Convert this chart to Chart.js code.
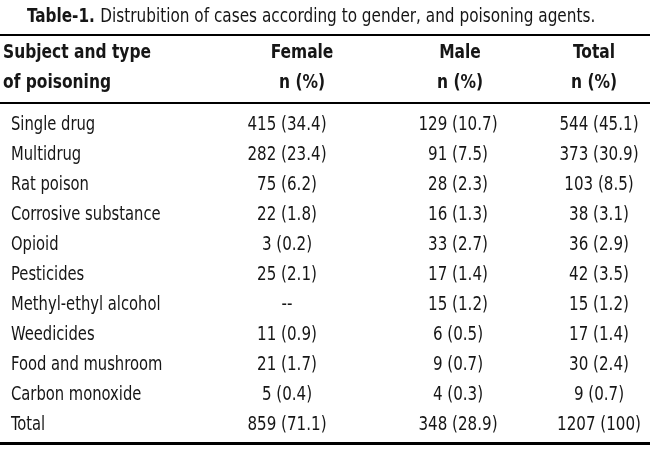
<!DOCTYPE html>
<html>
<head>
<meta charset="utf-8">
<script src="https://cdn.jsdelivr.net/npm/chart.js@4/dist/chart.umd.min.js"></script>
<style>
  html, body { margin: 0; padding: 0; background: #fff; }
  #wrap { width: 650px; height: 459px; position: relative; }
</style>
</head>
<body>
<div id="wrap"><canvas id="tbl"></canvas></div>
<script>
// Table data
const agents = ["Single drug", "Multidrug", "Rat poison", "Corrosive substance", "Opioid",
    "Pesticides", "Methyl-ethyl alcohol", "Weedicides", "Food and mushroom", "Carbon monoxide", "Total"];
const femaleN   = [415, 282, 75, 22, 3, 25, null, 11, 21, 5, 859];
const femalePct = [34.4, 23.4, 6.2, 1.8, 0.2, 2.1, null, 0.9, 1.7, 0.4, 71.1];
const maleN     = [129, 91, 28, 16, 33, 17, 15, 6, 9, 4, 348];
const malePct   = [10.7, 7.5, 2.3, 1.3, 2.7, 1.4, 1.2, 0.5, 0.7, 0.3, 28.9];
const totalN    = [544, 373, 103, 38, 36, 42, 15, 17, 30, 9, 1207];
const totalPct  = [45.1, 30.9, 8.5, 3.1, 2.9, 3.5, 1.2, 1.4, 2.4, 0.7, 100];
const columns   = ["Female", "Male", "Total"];
const titleBold = "Table-1.";
const titleText = "Distrubition of cases according to gender, and poisoning agents.";

// Layout (x positions on the 0..650 x scale)
const labelX = 11;
const colX = [287, 458, 599];
const headX = [302, 460, 594];
const FONT = '"DejaVu Sans Condensed", "DejaVu Sans", sans-serif';
const INK = "#161616";

function cellText(n, pct) {
    if (n === null) return "--";
    const p = pct === 100 ? "100" : pct.toFixed(1);
    return n + " (" + p + ")";
}

function makeDataset(name, nArr, pArr, i) {
    return {
        label: name,
        data: agents.map((a, r) => ({ x: colX[i], y: a, text: cellText(nArr[r], pArr[r]) })),
        pointRadius: 0,
        pointHoverRadius: 0
    };
}

// condensed text: squeeze horizontally
function txt(c, s, x, y, sx) {
    c.save();
    c.translate(x, y);
    c.scale(sx, 1);
    c.fillText(s, 0, 0);
    c.restore();
}

const tablePlugin = {
    id: "tablePlugin",
    beforeDraw(chart) {
        const c = chart.ctx;
        c.save();
        c.fillStyle = "#fff";
        c.fillRect(0, 0, chart.width, chart.height);
        c.restore();
    },
    afterDatasetsDraw(chart) {
        const c = chart.ctx;
        const xs = chart.scales.x, ys = chart.scales.y;
        const top = ys.getPixelForValue(0);
        const bottom = ys.getPixelForValue(agents.length - 1);
        c.save();
        c.fillStyle = INK;
        c.textBaseline = "middle";

        // title
        c.textAlign = "left";
        const tx = xs.getPixelForValue(27);
        const ty = top - 108;
        const tsx = 0.85;
        c.font = "bold 20px " + FONT;
        const wb = c.measureText(titleBold + " ").width;
        txt(c, titleBold, tx, ty, tsx);
        c.font = "20px " + FONT;
        txt(c, titleText, tx + wb * tsx, ty, tsx);

        // header
        c.font = "bold 20px " + FONT;
        const hx0 = xs.getPixelForValue(3);
        txt(c, "Subject and type", hx0, top - 72, 0.86);
        txt(c, "of poisoning", hx0, top - 42, 0.86);
        c.textAlign = "center";
        columns.forEach((name, i) => {
            const hx = xs.getPixelForValue(headX[i]);
            txt(c, name, hx, top - 72, 0.86);
            txt(c, "n (%)", hx, top - 42, 0.86);
        });

        // row labels
        c.font = "20px " + FONT;
        c.textAlign = "left";
        agents.forEach((a, r) => {
            txt(c, a, xs.getPixelForValue(labelX), ys.getPixelForValue(r), 0.82);
        });

        // cells
        c.textAlign = "center";
        chart.data.datasets.forEach((ds, i) => {
            chart.getDatasetMeta(i).data.forEach((pt, r) => {
                txt(c, ds.data[r].text, pt.x, pt.y, 0.84);
            });
        });

        // rules
        c.fillStyle = "#000";
        c.fillRect(0, top - 91, chart.width, 2);
        c.fillRect(0, top - 23, chart.width, 2);
        c.fillRect(0, bottom + 17, chart.width, 3);
        c.restore();
    }
};

new Chart(document.getElementById("tbl"), {
    type: "scatter",
    data: {
        datasets: columns.map((name, i) =>
            makeDataset(name, [femaleN, maleN, totalN][i], [femalePct, malePct, totalPct][i], i))
    },
    options: {
        responsive: true,
        maintainAspectRatio: false,
        animation: false,
        events: [],
        layout: { padding: { top: 125, bottom: 34, left: 0, right: 0 } },
        plugins: { legend: { display: false }, tooltip: { enabled: false } },
        scales: {
            x: { type: "linear", min: 0, max: 650, display: false },
            y: { type: "category", labels: agents, offset: false, display: false }
        }
    },
    plugins: [tablePlugin]
});
</script>
</body>
</html>
